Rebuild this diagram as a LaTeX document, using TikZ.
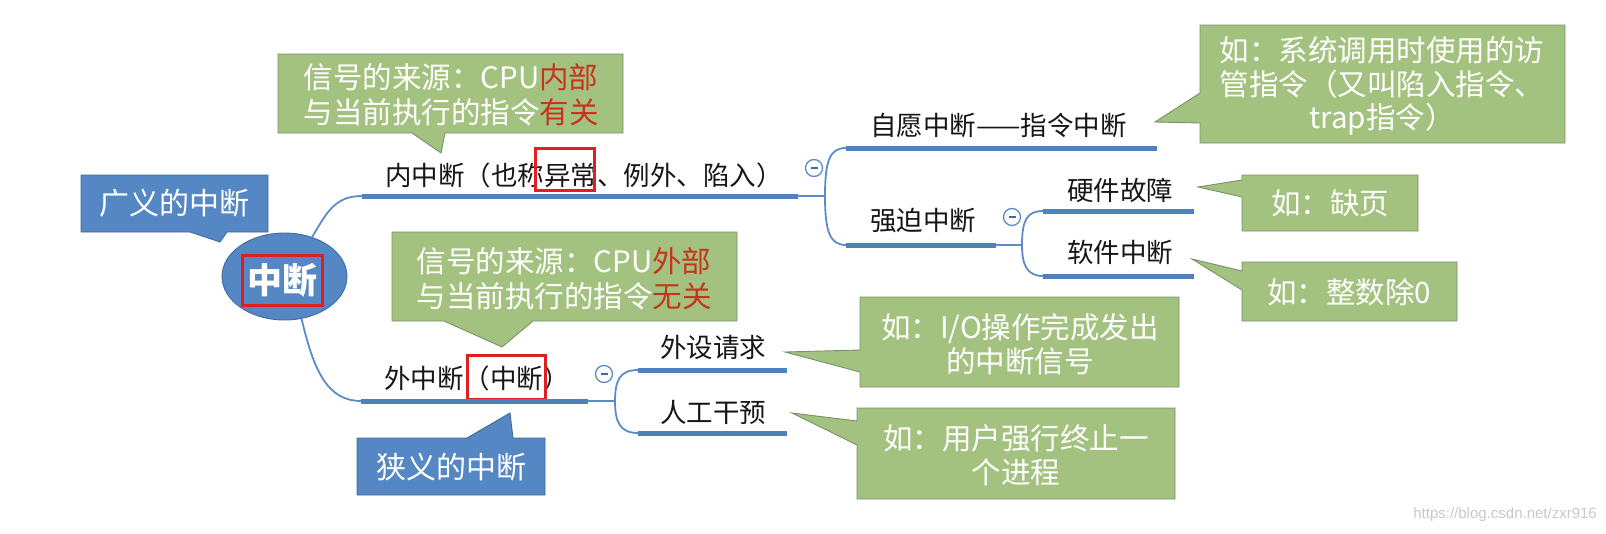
\documentclass[tikz,border=0pt]{standalone}
\usepackage{fontspec}
\setmainfont{Noto Sans CJK SC}
\newfontfamily\wmfont{Liberation Sans}
\usetikzlibrary{shapes.geometric}
\definecolor{cgreen}{RGB}{164,194,127}
\definecolor{cgreenb}{RGB}{118,146,104}
\definecolor{cblue}{RGB}{84,135,196}
\definecolor{cblueb}{RGB}{66,106,156}
\definecolor{cline}{RGB}{79,129,189}
\definecolor{cthin}{RGB}{92,140,200}
\definecolor{cred}{RGB}{198,52,30}
\definecolor{cbox}{RGB}{222,32,36}
\definecolor{ctext}{RGB}{22,22,22}
\definecolor{cwm}{RGB}{200,200,200}
\begin{document}
\begin{tikzpicture}[x=1pt,y=-1pt,
  greenco/.style={fill=cgreen, draw=cgreenb, line width=0.9},
  blueco/.style={fill=cblue, draw=cblueb, line width=0.9},
  ul/.style={draw=cline, line width=5},
  conn/.style={draw=cthin, line width=1.8},
  lbl/.style={anchor=west, inner sep=0, text=ctext, font=\fontsize{26.5}{30}\selectfont},
  cotext/.style={text=white, align=center, inner sep=0, font=\fontsize{29.5}{34.5}\selectfont},
  redbox/.style={draw=cbox, line width=3},
  collapse/.style={circle, draw=cthin, fill=white, line width=1.3, minimum size=17, inner sep=0},
  minus/.style={draw=cblueb, line width=1.3}]
\useasboundingbox (0,0) rectangle (1606,533);

% root
\node[ellipse, fill=cblue, draw=cblueb, line width=0.9, minimum width=125, minimum height=87, inner sep=0] (root) at (284.5,276.5) {};
\node[text=white, font=\fontsize{35}{40}\selectfont\bfseries, inner sep=0] (rt) at (282,280) {中断};
\draw[redbox] (242,255) rectangle (322,305);

% callouts blue
\path[blueco] (81,175) -- (268,175) -- (268,232) -- (227,232) -- (220,242) -- (190,232) -- (81,232) -- cycle;
\node[text=white, inner sep=0, font=\fontsize{30}{34}\selectfont] (wide) at (174,203) {广义的中断};
\path[blueco] (357,438) -- (467,438) -- (510,413) -- (513,438) -- (545,438) -- (545,495) -- (357,495) -- cycle;
\node[text=white, inner sep=0, font=\fontsize{30}{34}\selectfont] (narrow) at (451,467) {狭义的中断};

% callouts green
\path[greenco] (278,54) -- (623,54) -- (623,133) -- (445,133) -- (441,153) -- (412,133) -- (278,133) -- cycle;
\node[cotext] (t1) at (451,95) {信号的来源：CPU\textcolor{cred}{内部}\\与当前执行的指令\textcolor{cred}{有关}};
\path[greenco] (392,232) -- (737,232) -- (737,321) -- (533,321) -- (502,347) -- (444,321) -- (392,321) -- cycle;
\node[cotext] (t2) at (564,279) {信号的来源：CPU\textcolor{cred}{外部}\\与当前执行的指令\textcolor{cred}{无关}};
\path[greenco] (1200,25) -- (1565,25) -- (1565,143) -- (1200,143) -- (1200,123) -- (1155,122) -- (1200,93) -- cycle;
\node[cotext, font=\fontsize{29.5}{33.5}\selectfont] (t3) at (1382,86) {如：系统调用时使用的访\\管指令（又叫陷入指令、\\trap指令）};
\path[greenco] (1242,175) -- (1418,175) -- (1418,231) -- (1242,231) -- (1242,197) -- (1198,187) -- (1242,180) -- cycle;
\node[cotext] (t4) at (1330,203) {如：缺页};
\path[greenco] (1242,262) -- (1457,262) -- (1457,321) -- (1242,321) -- (1242,290) -- (1192,259) -- (1242,271) -- cycle;
\node[cotext] (t5) at (1349,292) {如：整数除0};
\path[greenco] (860,297) -- (1179,297) -- (1179,387) -- (860,387) -- (860,372) -- (785,352) -- (860,350) -- cycle;
\node[cotext] (t6) at (1020,344) {如：I/O操作完成发出\\的中断信号};
\path[greenco] (857,408) -- (1175,408) -- (1175,499) -- (857,499) -- (857,445) -- (792,413) -- (857,421) -- cycle;
\node[cotext] (t7) at (1016,455) {如：用户强行终止一\\个进程};

% branch labels
\node[lbl] (inner) at (385,175) {内中断（也称异常、例外、陷入）};
\node[lbl] (outer) at (384,378) {外中断（中断）};
\node[lbl] (vol) at (870,125) {自愿中断——指令中断};
\node[lbl] (forced) at (870,220) {强迫中断};
\node[lbl] (hw) at (1067,190) {硬件故障};
\node[lbl] (sw) at (1067,252) {软件中断};
\node[lbl] (dev) at (660,347) {外设请求};
\node[lbl] (man) at (660,412) {人工干预};
\draw[redbox] (535,148) rectangle (594,190);
\draw[redbox] (467,355) rectangle (545,399);

% underline coordinates
\coordinate (inA) at (362,196); \coordinate (inB) at (798,196); \coordinate (inJ) at (825,196);
\coordinate (volA) at (846,148); \coordinate (volB) at (1157,148);
\coordinate (forA) at (846,245); \coordinate (forB) at (996,245); \coordinate (forJ) at (1022,245);
\coordinate (hwA) at (1043,211); \coordinate (hwB) at (1194,211);
\coordinate (swA) at (1043,276); \coordinate (swB) at (1194,276);
\coordinate (outA) at (361,401); \coordinate (outB) at (588,401); \coordinate (outJ) at (615,401);
\coordinate (devA) at (638,370); \coordinate (devB) at (787,370);
\coordinate (manA) at (638,433); \coordinate (manB) at (787,433);

% connectors
\draw[conn] (root.55) .. controls (327,212) and (335,196) .. (inA);
\draw[conn] (root.-68) .. controls (314,372) and (328,401) .. (outA);
\draw[conn] (inB) -- (inJ);
\draw[conn] (inJ) .. controls (825,160) and (830,148) .. (volA);
\draw[conn] (inJ) .. controls (825,232) and (830,245) .. (forA);
\draw[conn] (forB) -- (forJ);
\draw[conn] (forJ) .. controls (1022,220) and (1027,211) .. (hwA);
\draw[conn] (forJ) .. controls (1022,265) and (1027,276) .. (swA);
\draw[conn] (outB) -- (outJ);
\draw[conn] (outJ) .. controls (615,380) and (620,370) .. (devA);
\draw[conn] (outJ) .. controls (615,422) and (620,433) .. (manA);

\draw[ul] (inA) -- (inB);
\draw[ul] (volA) -- (volB);
\draw[ul] (forA) -- (forB);
\draw[ul] (hwA) -- (hwB);
\draw[ul] (swA) -- (swB);
\draw[ul] (outA) -- (outB);
\draw[ul] (devA) -- (devB);
\draw[ul] (manA) -- (manB);

% collapse markers
\node[collapse] (c1) at (814,168) {};
\node[collapse] (c2) at (1012,217) {};
\node[collapse] (c3) at (604,374) {};
\draw[minus] ([xshift=-3.5pt]c1.center) -- ([xshift=3.5pt]c1.center);
\draw[minus] ([xshift=-3.5pt]c2.center) -- ([xshift=3.5pt]c2.center);
\draw[minus] ([xshift=-3.5pt]c3.center) -- ([xshift=3.5pt]c3.center);

% watermark
\node[anchor=east, text=cwm, inner sep=0, font=\wmfont\fontsize{15}{18}\selectfont] (wm) at (1597,515) {https://blog.csdn.net/zxr916};
\end{tikzpicture}
\end{document}
